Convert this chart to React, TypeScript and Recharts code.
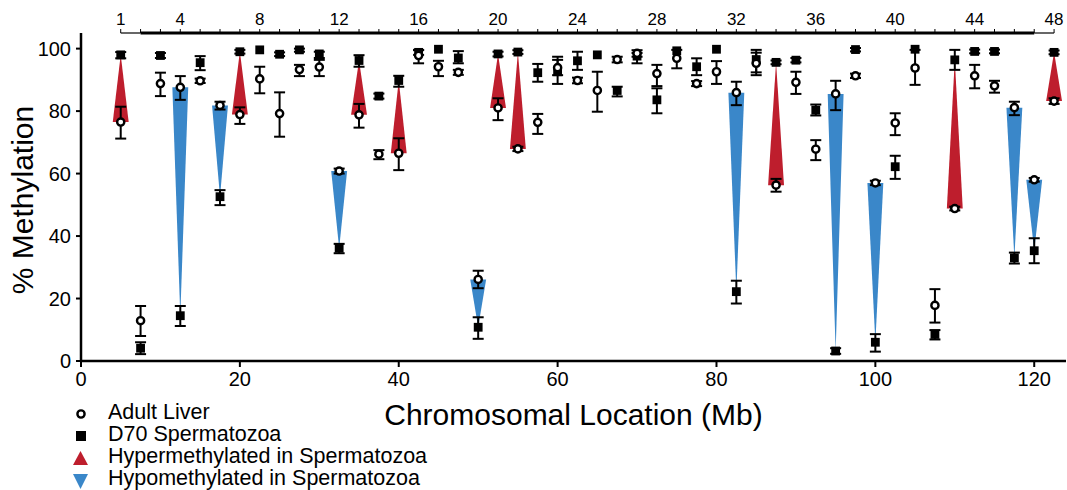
import React from 'react';
import { ComposedChart, Area, Scatter, ErrorBar, XAxis, YAxis, ReferenceLine } from 'recharts';

// chromosomal position (Mb) of each CpG site, sites 1..48
const siteMb = [
  5, 7.5, 10, 12.5, 15, 17.5, 20, 22.5, 25, 27.5, 30, 32.5, 35, 37.5, 40, 42.5,
  45, 47.5, 50, 52.5, 55, 57.5, 60, 62.5, 65, 67.5, 70, 72.5, 75, 77.5, 80, 82.5,
  85, 87.5, 90, 92.5, 95, 97.5, 100, 102.5, 105, 107.5, 110, 112.5, 115, 117.5, 120, 122.5,
];

// adult liver % methylation (mean, lower and upper end of error bar)
const liverMean = [
  76.5, 12.9, 88.8, 87.6, 89.7, 81.8, 78.9, 90.3, 79.2, 93.3, 94.1, 60.8, 78.8, 66.2, 66.5, 97.8,
  94.2, 92.4, 26.1, 81.0, 67.9, 76.4, 93.9, 89.8, 86.6, 96.5, 98.5, 92.0, 96.9, 88.8, 92.6, 85.9,
  95.3, 56.3, 89.2, 67.8, 85.5, 91.3, 57.0, 76.2, 93.8, 17.8, 48.8, 91.3, 88.1, 81.1, 58.0, 83.2,
];
const liverLow = [
  71.2, 8.0, 84.8, 83.6, 89.0, 80.5, 75.9, 85.7, 71.8, 91.2, 91.2, 60.0, 74.7, 64.6, 61.1, 95.3,
  91.2, 91.6, 23.3, 77.1, 67.2, 72.7, 91.5, 88.9, 79.8, 95.6, 97.4, 88.0, 93.7, 88.0, 88.7, 81.9,
  91.5, 54.2, 85.5, 64.3, 80.3, 90.6, 56.3, 72.3, 88.4, 12.3, 48.2, 87.3, 85.9, 78.7, 57.4, 82.3,
];
const liverHigh = [
  81.4, 17.6, 92.3, 91.2, 90.4, 83.0, 81.2, 94.2, 86.0, 94.8, 96.4, 61.6, 82.3, 67.5, 71.3, 99.5,
  96.1, 93.2, 28.9, 84.1, 68.6, 79.1, 96.4, 90.7, 92.6, 97.4, 99.5, 94.8, 99.6, 89.6, 96.0, 89.4,
  98.7, 58.3, 92.6, 70.7, 89.7, 92.0, 57.7, 79.3, 99.6, 23.0, 49.4, 94.8, 89.7, 83.0, 58.6, 84.1,
];

// D70 spermatozoa % methylation (null = no visible error bar)
const spermMean = [
  98.0, 4.1, 97.8, 14.5, 95.5, 52.6, 99.0, 99.6, 98.2, 99.6, 98.3, 36.1, 96.2, 84.8, 89.8, 98.8,
  99.8, 97.0, 10.8, 98.3, 98.9, 92.3, 92.6, 96.1, 98.0, 86.6, 97.6, 83.6, 99.3, 94.2, 99.8, 22.2,
  96.5, 95.6, 96.3, 80.3, 3.2, 99.7, 6.0, 62.2, 99.8, 8.5, 96.4, 99.1, 99.1, 33.0, 35.3, 98.8,
];
const spermLow = [
  96.9, 2.2, 97.0, 11.2, 93.1, 49.9, 98.4, null, 97.6, 99.0, 97.0, 34.5, 94.2, 84.0, 87.8, 98.0,
  null, 95.3, 7.1, 97.5, 98.3, 89.4, 88.7, 93.2, null, 84.7, 95.3, 79.3, null, 91.5, null, 18.4,
  92.4, 95.0, 95.6, 78.6, 2.3, 99.1, 3.0, 58.3, null, 6.9, 93.2, 98.5, 98.5, 31.2, 31.3, 98.2,
];
const spermHigh = [
  98.9, 6.0, 98.6, 17.6, 97.6, 54.7, 99.6, null, 98.8, 100, 99.0, 37.5, 97.9, 85.6, 91.3, 99.6,
  null, 99.2, 14.0, 99.0, 99.5, 95.1, 97.4, 99.0, null, 87.8, 98.6, 87.3, null, 96.9, null, 25.7,
  99.6, 96.2, 97.0, 82.1, 4.1, 100.2, 8.6, 65.7, null, 9.9, 99.6, 99.7, 99.7, 34.7, 39.3, 99.4,
];

// sites with a significant difference between liver and sperm
const hyperSites = [1, 7, 13, 15, 20, 21, 34, 43, 48];
const hypoSites = [4, 6, 12, 19, 32, 37, 39, 46, 47];

const labeledSites = [1, 4, 8, 12, 16, 20, 24, 28, 32, 36, 40, 44, 48];
const mbTicks = [0, 20, 40, 60, 80, 100, 120];
const pctTicks = [0, 20, 40, 60, 80, 100];

const HYPER = '#be1e2d';
const HYPO = '#3a87c9';
const FONT = '"Liberation Sans", Arial, Helvetica, sans-serif';
const WEDGE_HALF = 1; // Mb, half width of the wedge base

const rows = siteMb.map((x, i) => ({
  x,
  liver: liverMean[i],
  liverErr: [liverMean[i] - liverLow[i], liverHigh[i] - liverMean[i]],
  sperm: spermMean[i],
  spermErr: spermLow[i] == null ? null : [spermMean[i] - spermLow[i]!, spermHigh[i]! - spermMean[i]],
}));

// triangle: base at the liver value, tip at the sperm value
const wedge = (site: number) => {
  const i = site - 1;
  const x = siteMb[i];
  const l = liverMean[i];
  const s = spermMean[i];
  return [
    { x: x - WEDGE_HALF, band: [l, l] },
    { x, band: [l, s] },
    { x: x + WEDGE_HALF, band: [l, l] },
  ];
};

const CircleMark = (p: any) => (
  <circle cx={p.cx} cy={p.cy} r={3.6} fill="#fff" stroke="#000" strokeWidth={2.4} />
);
const SquareMark = (p: any) => (
  <rect x={p.cx - 4.4} y={p.cy - 4.4} width={8.8} height={8.8} fill="#000" />
);

const TopTick = ({ x, y, payload }: any) => {
  const site = siteMb.indexOf(payload.value) + 1;
  if (!labeledSites.includes(site)) return null;
  return (
    <text x={x} y={y} textAnchor="middle" fontSize={17} fill="#000">
      {site}
    </text>
  );
};

const YTitle = ({ viewBox }: any) => {
  const cx = viewBox.x + 22;
  const cy = viewBox.y + viewBox.height / 2 + 3;
  return (
    <text x={cx} y={cy} transform={`rotate(-90 ${cx} ${cy})`} textAnchor="middle" dominantBaseline="central" fontSize={30} fill="#000">
      % Methylation
    </text>
  );
};

const legendItems = [
  { label: 'Adult Liver', mark: 'circle' },
  { label: 'D70 Spermatozoa', mark: 'square' },
  { label: 'Hypermethylated in Spermatozoa', mark: 'up' },
  { label: 'Hypomethylated in Spermatozoa', mark: 'down' },
];

const LegendBox = () => (
  <svg width={500} height={100} style={{ position: 'absolute', left: 0, top: 395 }}>
    {legendItems.map((it, i) => {
      const base = 24 + i * 22;
      const cy = base - 6;
      let mark;
      if (it.mark === 'circle') mark = <circle cx={81} cy={cy + 1} r={3.6} fill="#fff" stroke="#000" strokeWidth={2.4} />;
      else if (it.mark === 'square') mark = <rect x={76} y={cy - 4} width={10} height={10} fill="#000" />;
      else if (it.mark === 'up') mark = <polygon points={`${73},${cy + 8} ${88},${cy + 8} ${80.5},${cy - 6}`} fill={HYPER} />;
      else mark = <polygon points={`${73},${cy - 5} ${88},${cy - 5} ${80.5},${cy + 10}`} fill={HYPO} />;
      return (
        <g key={it.label}>
          {mark}
          <text x={108} y={base} fontSize={21.5} fill="#000">
            {it.label}
          </text>
        </g>
      );
    })}
  </svg>
);

export default function App() {
  return (
    <div style={{ position: 'absolute', left: 0, top: 0, width: 1067, height: 490, fontFamily: FONT, background: '#fff' }}>
      <ComposedChart width={1067} height={490} margin={{ top: 0, right: 1, bottom: 65, left: 0 }}>
        <XAxis
          dataKey="x"
          type="number"
          domain={[0, 124]}
          allowDataOverflow
          ticks={mbTicks}
          interval={0}
          height={64}
          axisLine={{ stroke: '#000', strokeWidth: 2.5 }}
          tickLine={{ stroke: '#000', strokeWidth: 2 }}
          tickSize={6}
          tickMargin={5}
          tick={{ fontSize: 20, fill: '#000' }}
          label={{ value: 'Chromosomal Location (Mb)', position: 'insideBottom', offset: 0, fontSize: 30, fill: '#000' }}
        />
        <XAxis
          xAxisId="top"
          dataKey="x"
          orientation="top"
          type="number"
          domain={[0, 124]}
          allowDataOverflow
          ticks={siteMb}
          interval={0}
          height={33}
          axisLine={false}
          tickLine={{ stroke: '#000', strokeWidth: 1 }}
          tickSize={4}
          tickMargin={4}
          tick={<TopTick />}
        />
        <YAxis
          type="number"
          domain={[0, 105]}
          ticks={pctTicks}
          interval={0}
          width={81}
          axisLine={{ stroke: '#000', strokeWidth: 2.5 }}
          tickLine={{ stroke: '#000', strokeWidth: 2 }}
          tickSize={5}
          tickMargin={5}
          tick={{ fontSize: 20, fill: '#000' }}
          label={<YTitle />}
        />

        {/* top site axis line: thin ends, thick middle */}
        <ReferenceLine xAxisId="top" segment={[{ x: siteMb[0], y: 105 }, { x: siteMb[1], y: 105 }]} stroke="#000" strokeWidth={1.2} ifOverflow="visible" />
        <ReferenceLine xAxisId="top" segment={[{ x: siteMb[1], y: 105 }, { x: siteMb[46], y: 105 }]} stroke="#000" strokeWidth={3} ifOverflow="visible" />
        <ReferenceLine xAxisId="top" segment={[{ x: siteMb[46], y: 105 }, { x: siteMb[47], y: 105 }]} stroke="#000" strokeWidth={1.2} ifOverflow="visible" />

        {hyperSites.map((s) => (
          <Area key={`hyper-${s}`} data={wedge(s)} dataKey="band" type="linear" fill={HYPER} fillOpacity={1} stroke="none" dot={false} activeDot={false} isAnimationActive={false} />
        ))}
        {hypoSites.map((s) => (
          <Area key={`hypo-${s}`} data={wedge(s)} dataKey="band" type="linear" fill={HYPO} fillOpacity={1} stroke="none" dot={false} activeDot={false} isAnimationActive={false} />
        ))}

        <Scatter data={rows} dataKey="sperm" shape={SquareMark} isAnimationActive={false}>
          <ErrorBar dataKey="spermErr" direction="y" width={5.5} stroke="#000" strokeWidth={2} />
        </Scatter>
        <Scatter xAxisId="top" data={rows} dataKey="liver" shape={CircleMark} isAnimationActive={false}>
          <ErrorBar dataKey="liverErr" direction="y" width={5.5} stroke="#000" strokeWidth={2} />
        </Scatter>
      </ComposedChart>
      <LegendBox />
    </div>
  );
}
